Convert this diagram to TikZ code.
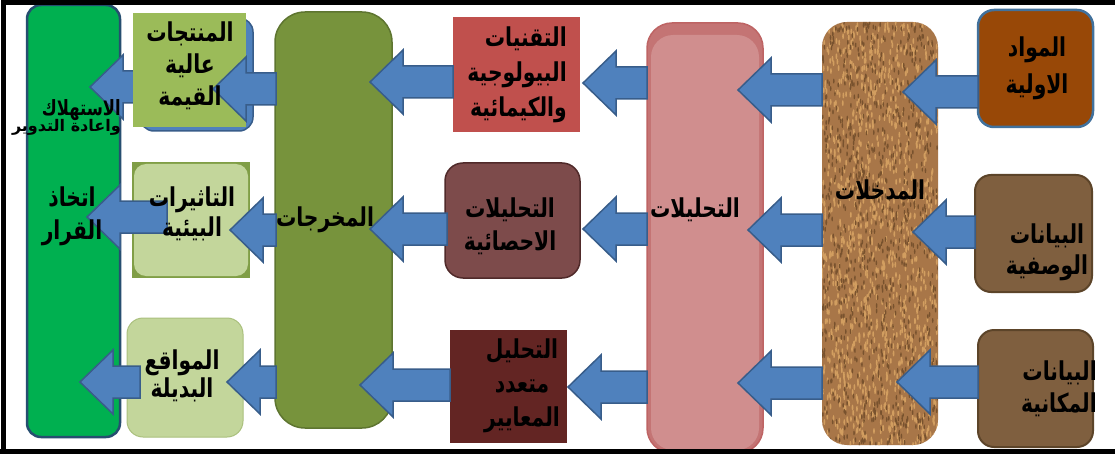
\documentclass[tikz,border=0pt]{standalone}
\usepackage{fontspec}
\newfontfamily\arabicfont[Script=Arabic,FakeStretch=0.78]{DejaVu Sans}
\newfontfamily\arabicwide[Script=Arabic]{DejaVu Sans}
\TeXXeTstate=1
\usetikzlibrary{calc}
\definecolor{decgreen}{RGB}{0,176,80}
\definecolor{decedge}{RGB}{38,78,112}
\definecolor{arrfill}{RGB}{79,129,189}
\definecolor{arredge}{RGB}{56,93,138}
\definecolor{olive}{RGB}{155,187,89}
\definecolor{oliveback}{RGB}{128,158,70}
\definecolor{palegreen}{RGB}{195,214,155}
\definecolor{paleedge}{RGB}{170,192,125}
\definecolor{outfill}{RGB}{119,147,60}
\definecolor{outedge}{RGB}{94,117,48}
\definecolor{techred}{RGB}{192,80,77}
\definecolor{statfill}{RGB}{125,75,75}
\definecolor{statedge}{RGB}{80,42,42}
\definecolor{mcdafill}{RGB}{99,37,35}
\definecolor{pinktop}{RGB}{196,116,116}
\definecolor{pinkbody}{RGB}{208,142,142}
\definecolor{pinkedge}{RGB}{190,100,100}
\definecolor{cork}{RGB}{168,118,72}
\definecolor{corklight}{RGB}{210,158,96}
\definecolor{corkdark}{RGB}{120,82,46}
\definecolor{rawfill}{RGB}{152,72,7}
\definecolor{rawedge}{RGB}{65,113,156}
\definecolor{datafill}{RGB}{127,95,63}
\definecolor{dataedge}{RGB}{92,68,41}
\newcommand\ArT[1]{\beginR #1\endR}
\newcommand\blockarr[2]{\draw[fatarr] let \p1=(#1), \p2=(#2) in
  (\x1,\y1) -- (\x1+33pt,\y1+32pt) -- (\x1+33pt,\y1+16pt) -- (\x2,\y1+16pt)
  -- (\x2,\y1-16pt) -- (\x1+33pt,\y1-16pt) -- (\x1+33pt,\y1-32pt) -- cycle;}
\begin{document}
\begin{tikzpicture}[x=1pt,y=-1pt,
  box/.style={rectangle,inner sep=0pt,outer sep=0pt},
  fatarr/.style={fill=arrfill,draw=arredge,line width=1.5pt,line join=miter},
  txt/.style 2 args={font=\arabicfont\bfseries\fontsize{#1}{#2}\selectfont,align=center,inner sep=0pt,text=black}]
\useasboundingbox (0,0) rectangle (1115,457);
\fill[white] (0,0) rectangle (1115,457);
% decision column
\node[box,fill=decgreen,draw=decedge,line width=2.5pt,rounded corners=14pt,minimum width=93pt,minimum height=432pt] (dec) at (73.5,221) {};
\coordinate (a1t) at (90,87); \coordinate (a1s) at (140,87);
\blockarr{a1t}{a1s}
% left boxes
\node[box,fill=arrfill,draw=arredge,line width=1.5pt,rounded corners=14pt,minimum width=113pt,minimum height=113pt] (prodback) at (196.5,74.5) {};
\node[box,fill=olive,minimum width=113pt,minimum height=114pt] (prod) at (189.5,70) {};
\node[box,fill=oliveback,minimum width=118pt,minimum height=116pt] (envback) at (191,220) {};
\node[box,fill=palegreen,rounded corners=12pt,minimum width=114pt,minimum height=112pt] (env) at (191,220) {};
\node[box,fill=palegreen,draw=paleedge,line width=1pt,rounded corners=16pt,minimum width=116pt,minimum height=119pt] (alt) at (185,377.5) {};
% outputs pillar
\node[box,fill=outfill,draw=outedge,line width=1.5pt,rounded corners=30pt,minimum width=117pt,minimum height=416pt] (out) at (333.5,220) {};
% analysis boxes
\node[box,fill=techred,minimum width=127pt,minimum height=115pt] (tech) at (516.5,74.5) {};
\node[box,fill=statfill,draw=statedge,line width=1.5pt,rounded corners=18pt,minimum width=135pt,minimum height=115pt] (stat) at (512.5,220.5) {};
\node[box,fill=mcdafill,minimum width=117pt,minimum height=113pt] (mcda) at (508.5,386.5) {};
% analyses pillar
\node[box,fill=pinktop,draw=pinkedge,line width=1.5pt,rounded corners=25pt,minimum width=116pt,minimum height=430pt] (ana) at (705,238) {};
\fill[pinkbody,rounded corners=22pt] ($(ana.north west)+(4,12)$) rectangle ($(ana.south east)+(-4,-3)$);
% inputs pillar
\node[box,fill=cork,rounded corners=25pt,minimum width=116pt,minimum height=423pt] (inp) at (880,233.5) {};
\begin{scope}
\clip[rounded corners=25pt] (inp.north west) rectangle (inp.south east);
\pgfmathsetseed{7}
\foreach \i in {1,...,1300}{\pgfmathsetmacro\xx{822+116*rnd}\pgfmathsetmacro\yy{22+423*rnd}\fill[corklight] (\xx,\yy) ellipse (0.9pt and 3pt);}
\foreach \i in {1,...,900}{\pgfmathsetmacro\xx{822+116*rnd}\pgfmathsetmacro\yy{22+423*rnd}\fill[corkdark] (\xx,\yy) ellipse (0.8pt and 2.5pt);}
\end{scope}
% source boxes
\node[box,fill=rawfill,draw=rawedge,line width=2.5pt,rounded corners=16pt,minimum width=115pt,minimum height=117pt] (raw) at (1035.5,68.5) {};
\node[box,fill=datafill,draw=dataedge,line width=2pt,rounded corners=16pt,minimum width=117pt,minimum height=117pt] (desc) at (1033.5,233.5) {};
\node[box,fill=datafill,draw=dataedge,line width=2pt,rounded corners=16pt,minimum width=115pt,minimum height=117pt] (spat) at (1035.5,388.5) {};
% arrows
\coordinate (a2t) at (87,217);  \coordinate (a2s) at (167,217);
\coordinate (a3t) at (80,382);  \coordinate (a3s) at (140,382);
\coordinate (b1t) at (213,89);  \coordinate (b1s) at (276,89);
\coordinate (b2t) at (230,230); \coordinate (b2s) at (276,230);
\coordinate (b3t) at (227,382); \coordinate (b3s) at (276,382);
\coordinate (c1t) at (370,82);  \coordinate (c1s) at (453,82);
\coordinate (c2t) at (370,229); \coordinate (c2s) at (447,229);
\coordinate (c3t) at (360,385); \coordinate (c3s) at (450,385);
\coordinate (d1t) at (583,83);  \coordinate (d1s) at (647,83);
\coordinate (d2t) at (583,229); \coordinate (d2s) at (647,229);
\coordinate (d3t) at (568,387); \coordinate (d3s) at (647,387);
\coordinate (e1t) at (738,90);  \coordinate (e1s) at (822,90);
\coordinate (e2t) at (748,230); \coordinate (e2s) at (822,230);
\coordinate (e3t) at (738,383); \coordinate (e3s) at (822,383);
\coordinate (f1t) at (903,92);  \coordinate (f1s) at (978,92);
\coordinate (f2t) at (913,232); \coordinate (f2s) at (975,232);
\coordinate (f3t) at (897,382); \coordinate (f3s) at (978,382);
\foreach \a in {a2,a3,b1,b2,b3,c1,c2,c3,d1,d2,d3,e1,e2,e3,f1,f2,f3}{\blockarr{\a t}{\a s}}
% texts
\node[txt={21}{24},anchor=east] (tcons) at (121,110) {\ArT{الاستهلاك}};
\node[txt={17}{19},font=\arabicwide\bfseries\fontsize{16}{18}\selectfont,anchor=east] (trec) at (121,127) {\ArT{واعادة التدوير}};
\node[txt={26}{33}] (tdec) at (72,216) {\ArT{اتخاذ}\\\ArT{القرار}};
\node[txt={26}{32}] (tprod) at (190,66) {\ArT{المنتجات}\\\ArT{عالية}\\\ArT{القيمة}};
\node[txt={26}{30}] (tenv) at (192,214) {\ArT{التاثيرات}\\\ArT{البيئية}};
\node[txt={26}{28}] (talt) at (182,376) {\ArT{المواقع}\\\ArT{البديلة}};
\node[txt={26}{33}] (tout) at (325,220) {\ArT{المخرجات}};
\node[txt={26}{35},align=right,anchor=east] (ttech) at (567,75) {\ArT{التقنيات}\\\ArT{البيولوجية}\\\ArT{والكيمائية}};
\node[txt={26}{33}] (tstat) at (510,226) {\ArT{التحليلات}\\\ArT{الاحصائية}};
\node[txt={26}{34}] (tmcda) at (522,386) {\ArT{التحليل}\\\ArT{متعدد}\\\ArT{المعايير}};
\node[txt={26}{33}] (tana) at (695,210) {\ArT{التحليلات}};
\node[txt={26}{33}] (tinp) at (880,190) {\ArT{المدخلات}};
\node[txt={26}{37}] (traw) at (1037,68) {\ArT{المواد}\\\ArT{الاولية}};
\node[txt={26}{31}] (tdesc) at (1047,252) {\ArT{البيانات}\\\ArT{الوصفية}};
\node[txt={26}{32},align=right,anchor=east] (tspat) at (1097,389) {\ArT{البيانات}\\\ArT{المكانية}};
% frame
\draw[line width=5pt] (3,451.5) -- (3,2.5) -- (1115,2.5);
\draw[line width=5pt] (0,451.5) -- (1115,451.5);
\end{tikzpicture}
\end{document}
